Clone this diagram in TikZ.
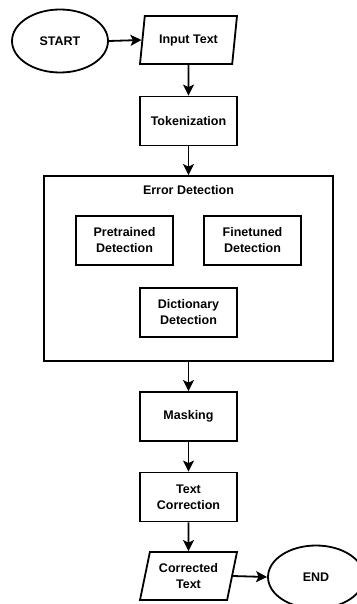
\documentclass[tikz,border=0pt]{standalone}
\usepackage{fontspec}
\setmainfont{Liberation Sans}
\usetikzlibrary{arrows.meta,shapes.geometric,positioning}
\tikzset{
    every node/.style={font=\bfseries\fontsize{12.5}{16}\selectfont,align=center},
    terminal/.style={ellipse,draw,line width=1.8pt,minimum width=96pt,minimum height=63pt,inner sep=0pt},
    iobox/.style={trapezium,trapezium left angle=70,trapezium right angle=110,trapezium stretches body,draw,line width=1.8pt,minimum width=97pt,minimum height=48pt,inner sep=1pt},
    procbox/.style={rectangle,draw,line width=1.8pt,minimum width=97pt,minimum height=49pt,inner sep=2pt},
    groupbox/.style={rectangle,draw,line width=1.8pt,minimum width=289pt,minimum height=185pt},
    flow/.style={draw,line width=1.8pt,-{Stealth[length=11pt,width=11pt,inset=2.5pt]}}
}

\begin{document}
\begin{tikzpicture}[x=1pt,y=-1pt]
\useasboundingbox (0,0) rectangle (356,604);

\node[terminal] (start) at (60,41) {START};
\node[iobox] (input) at (188.5,40) {Input Text};
\node[procbox] (tok) at (188.5,121) {Tokenization};

\node[groupbox] (errdet) at (188.5,268.5) {};
\node (errlabel) at (188.5,190) {Error Detection};
\node[procbox] (pre) at (124.5,240.5) {Pretrained\\Detection};
\node[procbox] (fine) at (252.5,240.5) {Finetuned\\Detection};
\node[procbox] (dict) at (188.5,312.5) {Dictionary\\Detection};

\node[procbox] (mask) at (188.5,416.5) {Masking};
\node[procbox] (corr) at (188.5,497) {Text\\Correction};
\node[iobox] (output) at (188.5,576) {Corrected\\Text};
\node[terminal] (end) at (316,577) {END};

\draw[flow] (start.east) -- (input.west);
\draw[flow] (input.south) -- (tok.north);
\draw[flow] (tok.south) -- (errdet.north);
\draw[flow] (errdet.south) -- (mask.north);
\draw[flow] (mask.south) -- (corr.north);
\draw[flow] (corr.south) -- (output.north);
\draw[flow] (output.east) -- (end.west);
\end{tikzpicture}
\end{document}
